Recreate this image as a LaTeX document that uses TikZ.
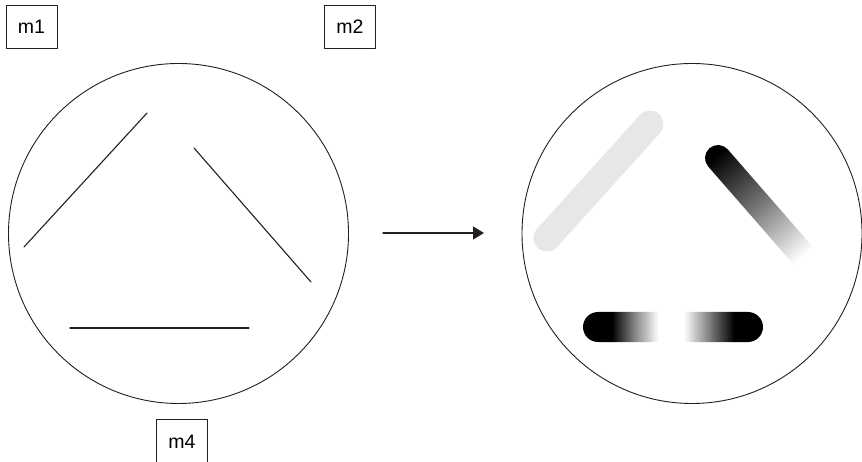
\documentclass[tikz,border=0pt]{standalone}
\usepackage{fontspec}
\setmainfont{Liberation Sans}
\usetikzlibrary{arrows.meta}

\definecolor{inkblack}{RGB}{35,31,32}
\definecolor{barlight}{RGB}{230,231,232}

% black ends, white middle (the inner 25bp--75bp is fitted to the path)
\pgfdeclarehorizontalshading{barshade}{100bp}{color(0bp)=(black); color(25bp)=(black);
  color(33bp)=(black); color(39bp)=(black!50); color(46bp)=(white); color(53bp)=(white);
  color(60bp)=(black!50); color(67bp)=(black); color(75bp)=(black); color(100bp)=(black)}
% black head fading out to white
\pgfdeclarehorizontalshading{fadeshade}{100bp}{color(0bp)=(black); color(28bp)=(black);
  color(48bp)=(black!55); color(70bp)=(white); color(100bp)=(white)}

\begin{document}
\begin{tikzpicture}[
    x=1pt,
    y=-1pt,
    line cap=round,
    line join=round,
    lens/.style={
        draw=inkblack,
        line width=0.9pt
    },
    stroke/.style={
        draw=inkblack,
        line width=1.1pt
    },
    lightbar/.style={
        draw=barlight,
        line width=27pt
    },
    labelbox/.style={
        draw=inkblack,
        line width=0.8pt,
        minimum width=51pt,
        minimum height=43pt,
        inner sep=0pt,
        font=\fontsize{19.5}{22}\selectfont
    }
]
\useasboundingbox (0,0) rectangle (862,462);

% =================================================
% Circles
% =================================================

\coordinate (O)  at (178.5,233.5);
\coordinate (O') at (692,233.5);

\draw[lens] (O)  circle[radius=170];
\draw[lens] (O') circle[radius=170];

% =================================================
% Thin strokes in the left circle
% =================================================

\coordinate (P1) at (24,247);
\coordinate (P2) at (147,113);
\coordinate (Q1) at (194,148);
\coordinate (Q2) at (311,282);
\coordinate (R1) at (70,328);
\coordinate (R2) at (249,328);

\draw[stroke] (P1)--(P2);
\draw[stroke] (Q1)--(Q2);
\draw[stroke] (R1)--(R2);

% =================================================
% Thick strokes in the right circle
% =================================================

% light grey bar
\coordinate (G1) at (547,238);
\coordinate (G2) at (650,124);
\draw[lightbar] (G1)--(G2);

% dark bar, fading along its length
\begin{scope}[transform canvas={shift={(718,158)}, rotate=-48.9}]
  \shade[shading=fadeshade, rounded corners=13pt] (-13,-13) rectangle (146,13);
\end{scope}

% bottom bar, white in the middle
\shade[shading=barshade, rounded corners=15pt] (583,312) rectangle (763,342);

% =================================================
% Arrow between the circles
% =================================================

\coordinate (arrowstart) at (383,233);
\coordinate (arrowend)   at (484,233);
\draw[stroke, line width=1.2pt, -{Triangle[length=11pt, width=13pt]}] (arrowstart)--(arrowend);

% =================================================
% Labels
% =================================================

\node[labelbox] (m1) at (31.5,26.5) {m1};
\node[labelbox] (m2) at (350,26.5)  {m2};
\node[labelbox, minimum height=45pt] (m4) at (182,441.5) {m4};

\end{tikzpicture}
\end{document}
